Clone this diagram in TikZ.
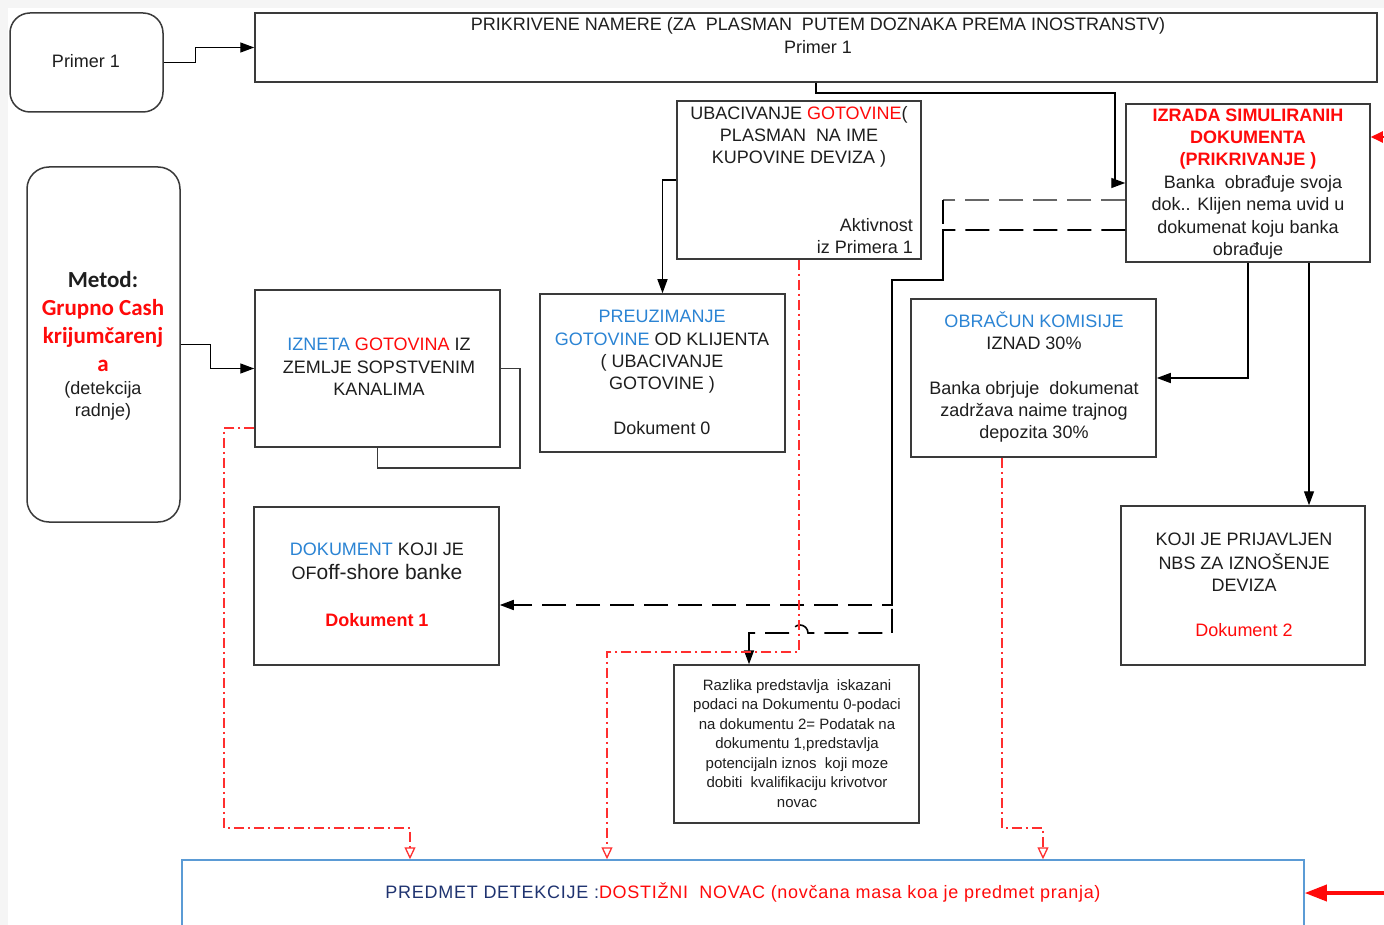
\documentclass[tikz,border=0pt]{standalone}
\usepackage{fontspec}
\setmainfont{Liberation Sans}
\newfontfamily\carl{Carlito}
\newfontfamily\wideArial[LetterSpace=4]{Liberation Sans}
\usetikzlibrary{arrows.meta}
\definecolor{tblue}{HTML}{2B84D4}
\definecolor{tred}{HTML}{FF0A0A}
\definecolor{navy}{HTML}{1F3370}
\definecolor{bord}{HTML}{3A3A3A}
\definecolor{pblue}{HTML}{5B9BD5}
\definecolor{ink}{HTML}{1E1E1E}
\begin{document}
\begin{tikzpicture}[x=1pt,y=-1pt,
  box/.style={draw=bord, line width=1.5pt, fill=white, inner sep=0pt},
  txt/.style={inner sep=0pt, align=center, text=ink, font=\fontsize{18}{22.3}\selectfont},
  conn/.style={draw=black, line width=1.4pt, -{Triangle[length=14pt,width=10pt]}},
  dsh/.style={line width=1.6pt, dash pattern=on 24pt off 10pt},
  rdd/.style={draw=tred!85, line width=1.3pt, dash pattern=on 10pt off 4pt on 2pt off 4pt},
  ropen/.style={-{Triangle[open,length=12pt,width=11pt]}}]
\useasboundingbox (0,0) rectangle (1384,925);
\fill[gray!8] (0,0) rectangle (1384,925);
\fill[white] (8,8) rectangle (1384,925);

% boxes
\node[box, rounded corners=20pt, minimum width=153pt, minimum height=99pt] (p1) at (86.5,62.5) {};
\node[box, minimum width=1122pt, minimum height=69pt] (top) at (816,47.5) {};
\node[box, minimum width=244pt, minimum height=158pt] (ubac) at (799,180) {};
\node[box, minimum width=244pt, minimum height=158pt] (izr) at (1248,183) {};
\node[box, rounded corners=22pt, minimum width=153pt, minimum height=355pt] (met) at (103.5,344.5) {};
\node[box, minimum width=245pt, minimum height=157pt] (izn) at (377.5,368.5) {};
\node[box, minimum width=245pt, minimum height=158pt] (preuz) at (662.5,373) {};
\node[box, minimum width=245pt, minimum height=158pt] (obr) at (1033.5,378) {};
\node[box, minimum width=244pt, minimum height=159pt] (koji) at (1243,585.5) {};
\node[box, minimum width=245pt, minimum height=158pt] (dok) at (376.5,586) {};
\node[box, minimum width=245pt, minimum height=158pt] (razl) at (796.5,744) {};
\node[box, draw=pblue, minimum width=1122pt, minimum height=80pt] (pred) at (743,900) {};

% texts
\node[txt] (p1t) at (86,63) {\strut Primer 1};
\node[txt] (topt) at (818,37.5) {\strut PRIKRIVENE NAMERE (ZA~~PLASMAN~~PUTEM DOZNAKA PREMA INOSTRANSTV)\\\strut Primer 1};
\node[txt] (ubact) at (799,137) {\strut UBACIVANJE \textcolor{tred}{GOTOVINE}(\\\strut PLASMAN~~NA IME\\\strut KUPOVINE DEVIZA )};
\node[txt, align=right, anchor=east] (ubacb) at (913,238) {\strut Aktivnost\\\strut iz Primera 1};
\node[txt, text=tred, font=\fontsize{18}{22.3}\selectfont\bfseries] (izrt) at (1248,139) {\strut IZRADA SIMULIRANIH\\\strut DOKUMENTA\\\strut (PRIKRIVANJE )};
\node[txt] (izrb) at (1248,217.5) {\strut\hspace{10pt}Banka~~obrađuje svoja\\\strut dok.. Klijen nema uvid u\\\strut dokumenat koju banka\\\strut obrađuje};
\node[txt, font=\fontsize{23}{28}\selectfont\carl\bfseries] (mett) at (103,323.5) {\strut Metod:\\\strut\textcolor{tred}{Grupno Cash}\\\strut\textcolor{tred}{krijumčarenj}\\\strut\textcolor{tred}{a}};
\node[txt] (metb) at (103,401) {\strut(detekcija\\\strut radnje)};
\node[txt] (iznt) at (379,368.7) {\strut\textcolor{tblue}{IZNETA} \textcolor{tred}{GOTOVINA} IZ\\\strut ZEMLJE SOPSTVENIM\\\strut KANALIMA};
\node[txt] (preuzt) at (662,374) {\strut\textcolor{tblue}{PREUZIMANJE}\\\strut\textcolor{tblue}{GOTOVINE} OD KLIJENTA\\\strut( UBACIVANJE\\\strut GOTOVINE )\\\strut\\\strut Dokument 0};
\node[txt] (obrt) at (1034,378.5) {\strut\textcolor{tblue}{OBRAČUN KOMISIJE}\\\strut IZNAD 30\%\\\strut\\\strut Banka obrjuje~~dokumenat\\\strut zadržava naime trajnog\\\strut depozita 30\%};
\node[txt] (kojit) at (1244,586.5) {\strut KOJI JE PRIJAVLJEN\\\strut NBS ZA IZNOŠENJE\\\strut DEVIZA\\\strut\\\strut\textcolor{tred}{Dokument 2}};
\node[txt, font=\fontsize{18}{23.7}\selectfont] (dokt) at (377,586.2) {\strut\textcolor{tblue}{DOKUMENT} KOJI JE\\\strut OF{\fontsize{21}{23.7}\selectfont off-shore banke}\\\strut\\\strut\textcolor{tred}{\bfseries Dokument 1}};
\node[txt, font=\fontsize{15}{19.5}\selectfont] (razlt) at (797,745) {\strut Razlika predstavlja~~iskazani\\\strut podaci na Dokumentu 0-podaci\\\strut na dokumentu 2= Podatak na\\\strut dokumentu 1,predstavlja\\\strut potencijaln iznos~~koji moze\\\strut dobiti~~kvalifikaciju krivotvor\\\strut novac};
\node[txt, font=\fontsize{18}{22.3}\wideArial] (predt) at (743,894) {\strut\textcolor{navy}{PREDMET DETEKCIJE :}\textcolor{tred}{DOSTIŽNI~~NOVAC (novčana masa koa je predmet pranja)}};

% solid connectors
\draw[conn] (p1.east) -- ++(32,0) |- (top.west);
\coordinate (j1) at (1115,93);
\draw[conn] (top.south) |- (j1) |- (izr.west);
\draw[conn] (ubac.west) -| (preuz.north);
\draw[conn] (met.east) -- ++(30,0) |- (izn.west);
\draw[draw=bord, line width=1.5pt] (izn.east) -| ++(19,99.5) -| (izn.south);
\draw[conn] (izr.south) |- (obr.east);
\draw[conn] ([xshift=61pt]izr.south) -- ([xshift=61pt]izr.south |- koji.north);

% dashed connectors
\coordinate (ga) at (943,280);
\coordinate (gb) at (892,280);
\coordinate (gc) at (943,200);
\coordinate (gd) at (943,230);
\draw[dsh, draw=black!60] ([yshift=-17pt]izr.west) -- (gc);
\draw[dsh, draw=black, -{Triangle[length=14pt,width=10pt]}] (gc) -- (ga) -- (gb) -- (892,605) -- ([yshift=-19pt]dok.east);
\draw[dsh, draw=black, -{Triangle[length=14pt,width=10pt]}] ([yshift=-47pt]izr.west) -- (gd) -- (ga) -- (gb) -- (892,633) -- (808,633) arc (0:-180:8) -- (749,633) -- ([xshift=-47.5pt]razl.north);

% red dash-dot connectors
\draw[rdd, ropen] (ubac.south) -- (799,652) -| ([xshift=-136pt]pred.north);
\draw[rdd, ropen] ([yshift=-59.5pt]izn.west) -| (224,828) -| ([xshift=-333pt]pred.north);
\draw[rdd, ropen] ([xshift=-31.5pt]obr.south) -- (1002,828) -| ([xshift=300pt]pred.north);

% red arrows from outside
\coordinate (rin1) at (1400,137);
\coordinate (rin2) at (1400,893);
\draw[draw=tred, line width=2pt, -{Triangle[length=12pt,width=11pt]}] (rin1) -- ([yshift=46pt]izr.east);
\draw[draw=tred, line width=3.5pt, -{Triangle[length=22pt,width=16pt]}] (rin2) -- ([yshift=7pt]pred.east);
\end{tikzpicture}
\end{document}
